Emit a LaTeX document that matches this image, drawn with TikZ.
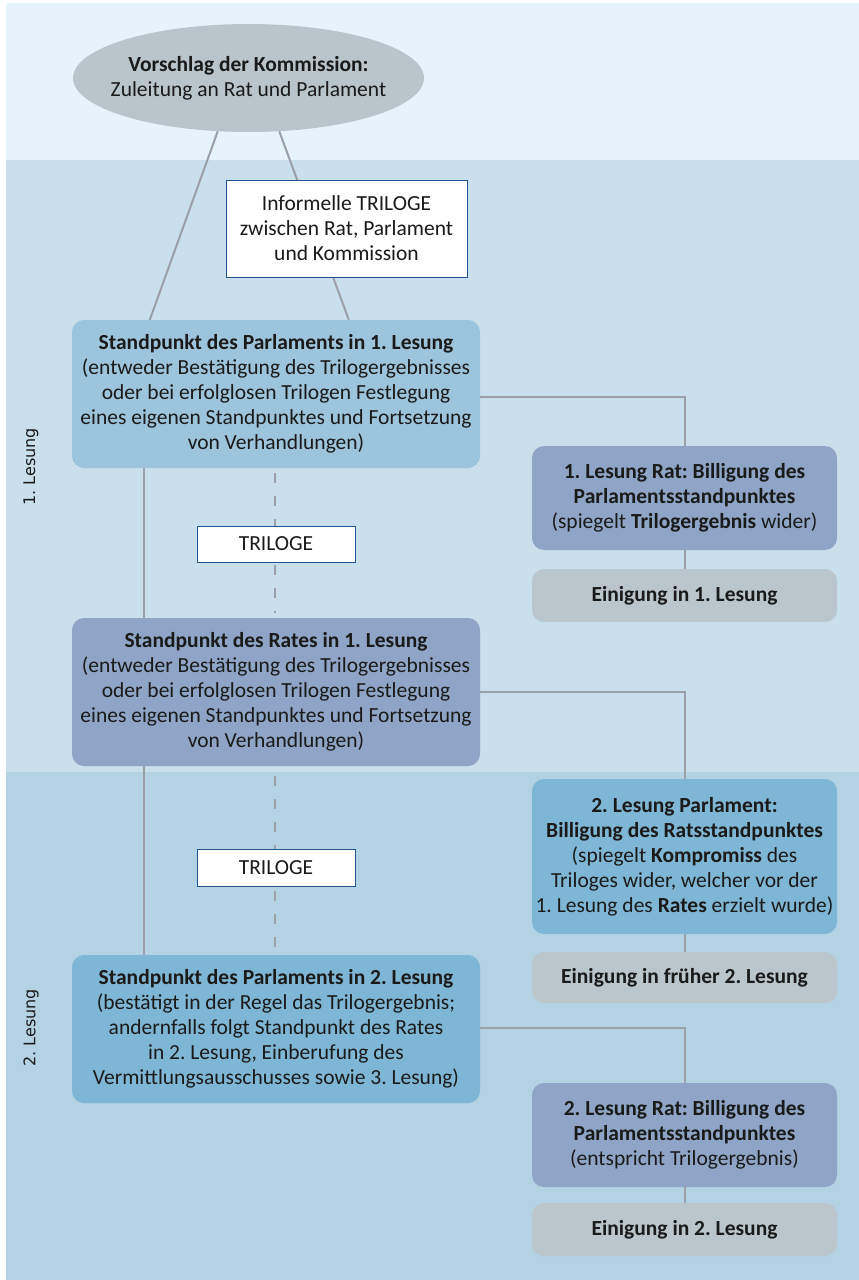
\documentclass[tikz,border=0pt]{standalone}
\usepackage{fontspec}
\setmainfont{Carlito}
\newfontfamily\sidefont{DejaVu Sans}
\usetikzlibrary{calc,shapes.geometric}
\frenchspacing
\definecolor{bandtop}{HTML}{E6F3FB}
\definecolor{bandone}{HTML}{C9DFEC}
\definecolor{bandtwo}{HTML}{B3D2E4}
\definecolor{ellgray}{HTML}{B9C5CA}
\definecolor{parlone}{HTML}{9DC4DD}
\definecolor{ratblue}{HTML}{8FA5C7}
\definecolor{parltwo}{HTML}{7FB6D5}
\definecolor{einigray}{HTML}{BAC6CB}
\definecolor{linegray}{HTML}{9AA0A5}
\definecolor{triborder}{HTML}{1F5590}
\definecolor{txt}{HTML}{1A1A1A}
\tikzset{
  box/.style={rounded corners=12pt, align=center, inner sep=0pt, text=txt,
    font=\fontsize{21.5}{25}\selectfont},
  bigbox/.style={box, minimum width=408pt, minimum height=148pt},
  rightbox/.style={box, minimum width=305pt},
  tribox/.style={draw=triborder, line width=1pt, fill=white, align=center, inner sep=0pt,
    text=txt, font=\fontsize{21.5}{25}\selectfont},
  conn/.style={draw=linegray, line width=2pt},
  dashconn/.style={draw=linegray, line width=2pt, dash pattern=on 10pt off 13pt},
  sidelabel/.style={rotate=90, text=txt, font=\sidefont\fontsize{16}{18}\selectfont}
}
\begin{document}
\begin{tikzpicture}[x=1pt,y=-1pt]
\useasboundingbox (0,0) rectangle (859,1280);
% bands
\fill[bandtop] (6,3) rectangle (859,160);
\fill[bandone] (6,160) rectangle (859,772);
\fill[bandtwo] (6,772) rectangle (859,1280);

% nodes
\node[ellipse, fill=ellgray, minimum width=351pt, minimum height=108pt, inner sep=0pt] (ell) at (248.5,78) {};
\node[align=center, inner sep=0pt, text=txt, font=\fontsize{21.5}{25}\selectfont] (ellt) at (ell.center)
  {\textbf{Vorschlag der Kommission:}\\Zuleitung an Rat und Parlament};

\node[bigbox, fill=parlone] (p1) at (276,394)
  {\textbf{Standpunkt des Parlaments in 1. Lesung}\\(entweder Bestätigung des Trilogergebnisses\\oder bei erfolglosen Trilogen Festlegung\\eines eigenen Standpunktes und Fortsetzung\\von Verhandlungen)};

\node[rightbox, fill=ratblue, minimum height=104pt] (r1) at (684.5,498)
  {\textbf{1. Lesung Rat: Billigung des}\\\textbf{Parlamentsstandpunktes}\\(spiegelt \textbf{Trilogergebnis} wider)};

\node[rightbox, fill=einigray, minimum height=53pt] (e1) at (684.5,595.5)
  {\textbf{Einigung in 1. Lesung}};

\node[bigbox, fill=ratblue] (rr) at (276,692)
  {\textbf{Standpunkt des Rates in 1. Lesung}\\(entweder Bestätigung des Trilogergebnisses\\oder bei erfolglosen Trilogen Festlegung\\eines eigenen Standpunktes und Fortsetzung\\von Verhandlungen)};

\node[rightbox, fill=parltwo, minimum height=155pt] (p2r) at (684.5,856.5)
  {\textbf{2. Lesung Parlament:}\\\textbf{Billigung des Ratsstandpunktes}\\(spiegelt \textbf{Kompromiss} des\\Triloges wider, welcher vor der\\1. Lesung des \textbf{Rates} erzielt wurde)};

\node[rightbox, fill=einigray, minimum height=51pt] (ef) at (684.5,977.5)
  {\textbf{Einigung in früher 2. Lesung}};

\node[bigbox, fill=parltwo] (p2) at (276,1029)
  {\textbf{Standpunkt des Parlaments in 2. Lesung}\\(bestätigt in der Regel das Trilogergebnis;\\andernfalls folgt Standpunkt des Rates\\in 2. Lesung, Einberufung des\\Vermittlungsausschusses sowie 3. Lesung)};

\node[rightbox, fill=ratblue, minimum height=104pt] (r2) at (684.5,1135)
  {\textbf{2. Lesung Rat: Billigung des}\\\textbf{Parlamentsstandpunktes}\\(entspricht Trilogergebnis)};

\node[rightbox, fill=einigray, minimum height=53pt] (e2) at (684.5,1229.5)
  {\textbf{Einigung in 2. Lesung}};

% connectors
\draw[conn] (ell.240) -- ($(p1.north west)+(78,0)$);
\draw[conn] (ell.300) -- ($(p1.north west)+(277,0)$);
\draw[conn] ($(p1.east)+(0,3)$) -| (r1.north);
\draw[conn] (r1.south) -- (e1.north);
\draw[conn] ($(p1.south west)+(72,0)$) -- ($(rr.north west)+(72,0)$);
\draw[dashconn] ($(p1.south)+(-1,5)$) -- ($(rr.north)+(-1,-5)$);
\draw[conn] (rr.east) -| (p2r.north);
\draw[conn] (p2r.south) -- (ef.north);
\draw[conn] ($(rr.south west)+(72,0)$) -- ($(p2.north west)+(72,0)$);
\draw[dashconn] ($(rr.south)+(-1,10)$) -- ($(p2.north)+(-1,-2)$);
\draw[conn] ($(p2.east)+(0,-1)$) -| (r2.north);
\draw[conn] (r2.south) -- (e2.north);

% boxes on top of lines
\node[tribox, minimum width=241pt, minimum height=97pt] (inf) at (346.5,228.5)
  {Informelle TRILOGE\\zwischen Rat, Parlament\\und Kommission};
\node[tribox, minimum width=158pt, minimum height=36pt] (t1) at (276,544) {TRILOGE};
\node[tribox, minimum width=158pt, minimum height=37pt] (t2) at (276,868) {TRILOGE};

% side labels
\node[sidelabel] (l1) at (31,467) {1. Lesung};
\node[sidelabel] (l2) at (31,1028) {2. Lesung};
\end{tikzpicture}
\end{document}
